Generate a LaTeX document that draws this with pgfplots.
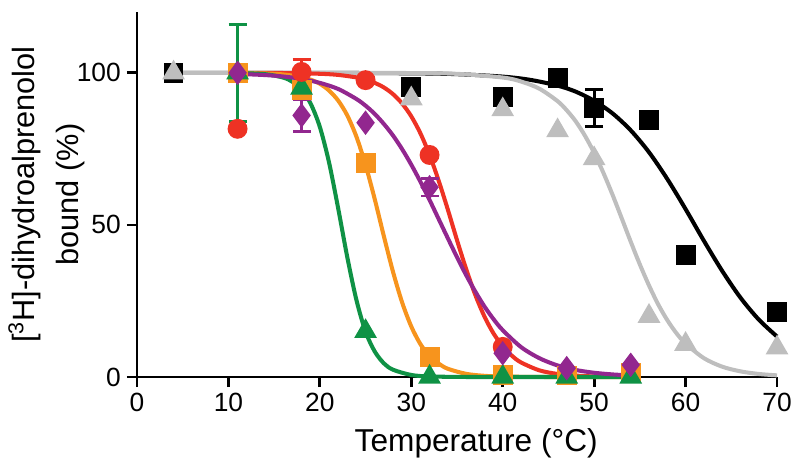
\documentclass[border=0pt]{standalone}
\usepackage{fontspec}
\setmainfont{Liberation Sans}
\usepackage{pgfplots}
\pgfplotsset{compat=1.18}
\definecolor{cred}{HTML}{EE3224}
\definecolor{corange}{HTML}{F7941D}
\definecolor{cpurple}{HTML}{92278F}
\definecolor{cgreen}{HTML}{0F9245}
\definecolor{cgray}{HTML}{BEBEBE}

\begin{document}
\begin{tikzpicture}
\useasboundingbox (-2.74,-1.86) rectangle (13.26,7.54);
\begin{axis}[
  scale only axis, width=12.8cm, height=7.3cm,
  xmin=0, xmax=70, ymin=0, ymax=120,
  axis x line=bottom, axis y line=left,
  axis line style={-, line width=1.6pt},
  xtick={0,10,...,70}, ytick={0,50,100},
  tick align=outside, major tick length=0.2cm,
  tick style={line width=1.6pt, black},
  ticklabel style={font=\fontsize{15}{18}\selectfont},
  /pgf/number format/assume math mode=true,
  xlabel={Temperature (\textdegree C)},
  xlabel style={at={(axis description cs:0.53,-0.2047)}, anchor=base,
    font=\fontsize{18}{21}\selectfont},
  ylabel={[\textsuperscript{3}H]-dihydroalprenolol\\bound (\%)},
  ylabel style={at={(axis description cs:-0.1414,0.5)}, anchor=center,
    align=center, font=\fontsize{17.5}{25}\selectfont},
  clip=false,
  every axis plot/.append style={line width=2.3pt},
]
% fitted curves
\addplot[black, smooth, no markers] coordinates {
  (4,100)(20,99.98)(30,99.84)(35,99.56)(40,98.76)(43,97.7)(46,95.8)(48,93.8)
  (50,90.8)(52,86.7)(54,81.1)(56,73.9)(58,65.1)(60,55.2)(62,44.8)(64,34.9)
  (66,26.1)(68,18.9)(70,13.3)};
\addplot[cgray, smooth, no markers] coordinates {
  (4,100)(20,100)(30,99.93)(35,99.67)(40,98.46)(42,97.15)(44,94.8)(46,90.7)
  (47,87.7)(48,84.0)(49,79.3)(50,73.7)(51,67.2)(52,60.0)(53,52.3)(54,44.5)
  (55,37.0)(56,30.1)(57,23.9)(58,18.7)(59,14.4)(60,11.0)(62,6.2)(64,3.4)
  (66,1.86)(68,1.0)(70,0.54)};
\addplot[cred, smooth, no markers] coordinates {
  (11,100)(16,99.94)(20,99.69)(22,99.32)(24,98.5)(25,97.8)(26,96.7)(27,95.2)
  (28,93.0)(29,89.9)(30,85.7)(31,80.1)(32,73.0)(33,64.5)(34,55.0)(35,45.0)
  (36,35.5)(37,27.0)(38,19.9)(39,14.3)(40,10.1)(41,7.0)(42,4.8)(44,2.2)
  (46,1.0)(48,0.46)(50,0.2)(54,0.04)};
\addplot[corange, smooth, no markers] coordinates {
  (11,99.95)(14,99.8)(16,99.48)(18,98.6)(19,97.76)(20,96.4)(21,94.2)(22,90.9)
  (23,86.0)(24,79.0)(25,69.7)(26,58.5)(27,46.3)(28,34.6)(29,24.5)(30,16.6)
  (31,10.8)(32,6.9)(33,4.4)(34,2.7)(36,1.04)(38,0.39)(40,0.15)(44,0.02)
  (47,0)(54,0)};
\addplot[cgreen, smooth, no markers] coordinates {
  (11,99.94)(14,99.57)(16,98.43)(17,97.04)(18,94.48)(19,89.85)(20,82.2)
  (21,70.6)(22,55.5)(23,39.4)(24,25.3)(25,14.9)(26,8.4)(27,4.5)(28,2.4)
  (30,0.67)(32,0.18)(36,0.01)(40,0)(47,0)(54,0)};
\addplot[cpurple, smooth, no markers] coordinates {
  (11,99.66)(14,99.27)(16,98.8)(18,98.0)(20,96.7)(22,94.7)(24,91.4)(25,89.2)
  (26,86.5)(27,83.2)(28,79.4)(29,74.9)(30,69.8)(31,64.2)(32,58.2)(33,51.9)
  (34,45.6)(35,39.4)(36,33.5)(37,28.1)(38,23.2)(39,19.0)(40,15.4)(42,9.85)
  (44,6.2)(46,3.8)(48,2.3)(50,1.4)(52,0.85)(54,0.51)};
% measured points
\pgfplotsset{errstyle/.style={only marks, mark=none, line width=1.6pt,
  error bars/.cd, y dir=both, y explicit,
  error bar style={line width=1.6pt},
  error mark options={rotate=90, mark size=5.1pt, line width=1.6pt}}}
\addplot[black, errstyle] coordinates {(4,100) +- (0,2.5) (50,88.4) +- (0,6.1)};
\addplot[only marks, mark=square*, mark size=4.5pt, black] coordinates {
  (4,100)(30,95.4)(40,92.1)(46,98.2)(50,88.4)(56,84.6)(60,40)(70,21.4)};
\addplot[only marks, mark=triangle*, mark size=5.2pt, cgray] coordinates {
  (4,100)(30,91.5)(40,87.9)(46,81)(50,71.8)(56,20)(60,10.8)(70,9.6)};
\addplot[only marks, mark=square*, mark size=4.5pt, corange] coordinates {
  (11,100)(18,94.4)(25,70.3)(32,6.7)(40,0.7)(47,0.5)(54,1.3)};
\addplot[cgreen, errstyle] coordinates {(11,100) +- (0,16)};
\addplot[only marks, mark=triangle*, mark size=5.2pt, cgreen] coordinates {
  (11,100)(18,95)(25,15)(32,0)(40,0)(47,0)(54,0)};
\addplot[cred, errstyle] coordinates {(18,100.3) +- (0,4)};
\addplot[only marks, mark=*, mark size=4.5pt, cred] coordinates {
  (11,81.6)(18,100.3)(25,97.6)(32,73)(40,9.9)};
\addplot[cpurple, errstyle] coordinates {(18,86) +- (0,5.2) (32,62.4) +- (0,2.9)};
\addplot[only marks, mark=diamond*, mark size=5.1pt, cpurple] coordinates {
  (11,100)(18,86)(25,83.6)(32,62.4)(40,7.8)(47,2.9)(54,4)};
\end{axis}
\end{tikzpicture}
\end{document}
